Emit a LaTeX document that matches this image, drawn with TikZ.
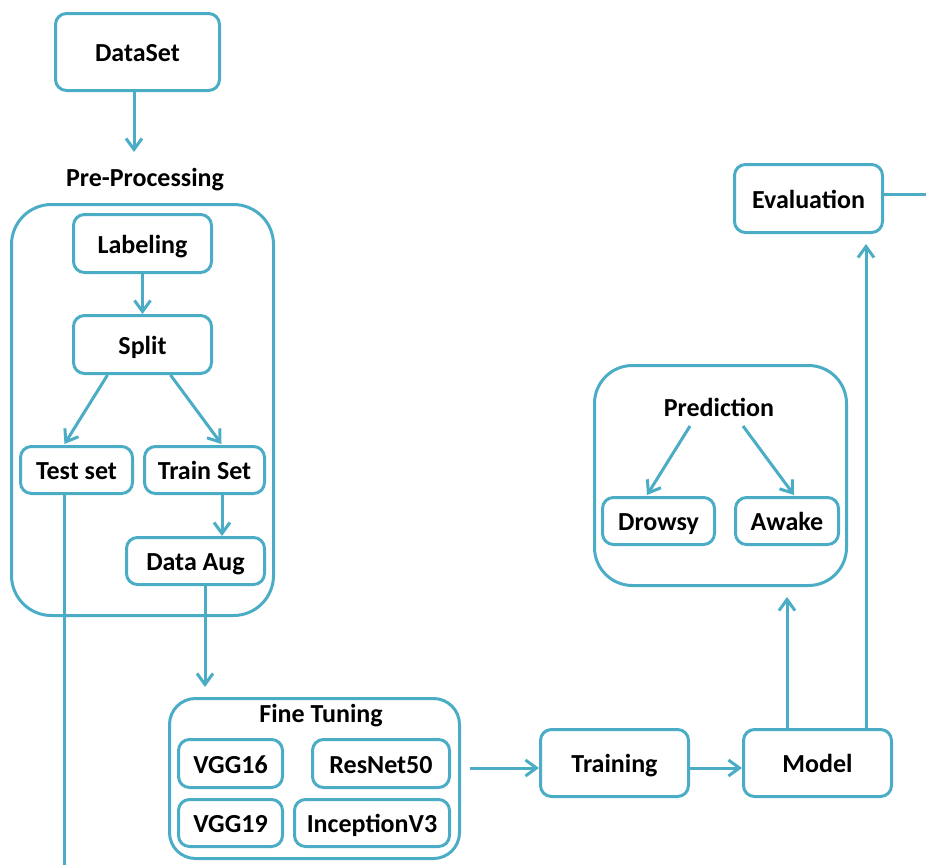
\documentclass[tikz,border=0pt]{standalone}
\usepackage{fontspec}
\setmainfont{Carlito}
\usetikzlibrary{arrows.meta,calc}
\definecolor{flow}{HTML}{4BACC6}
\begin{document}
\begin{tikzpicture}[x=1pt,y=-1pt,
  txt/.style={font=\bfseries\fontsize{26}{31}\selectfont, text=black},
  box/.style={txt, draw=flow, line width=3pt, rounded corners=11pt, inner sep=0pt,
    text height=19pt, text depth=0pt},
  group/.style={draw=flow, line width=3pt, inner sep=0pt},
  title/.style={txt, inner sep=0pt},
  wire/.style={draw=flow, line width=3pt},
  link/.style={wire, -{Straight Barb[length=11pt,width=16pt,line width=3pt]}}]
\useasboundingbox (0,0) rectangle (926,865);

% containers
\node[group, rounded corners=40pt, minimum width=262pt, minimum height=411pt] (pre) at (142.5,410) {};
\node[group, rounded corners=26pt, minimum width=290pt, minimum height=160pt] (fine) at (314.5,778.5) {};
\node[group, rounded corners=38pt, minimum width=252pt, minimum height=220pt] (pred) at (720.5,475.5) {};

% titles
\node[title] (pretitle) at (145,180) {Pre-Processing};
\node[title] (finetitle) at (321,716) {Fine Tuning};
\node[title] (predtitle) at (719,407) {Prediction};

% process boxes
\node[box, minimum width=164pt, minimum height=77pt] (data) at (137.5,52) {DataSet};
\node[box, minimum width=138pt, minimum height=58pt] (label) at (142.5,243.5) {Labeling};
\node[box, minimum width=138pt, minimum height=58pt] (split) at (142.5,344.5) {Split};
\node[box, minimum width=112pt, minimum height=47pt] (test) at (76.5,470) {Test set};
\node[box, minimum width=120pt, minimum height=47pt] (train) at (204.5,470) {Train Set};
\node[box, minimum width=138pt, minimum height=47pt] (aug) at (195.5,561) {Data Aug};

\node[box, minimum width=104pt, minimum height=48pt] (vgga) at (230.5,763.5) {VGG16};
\node[box, minimum width=137pt, minimum height=48pt] (resnet) at (381,763.5) {ResNet50};
\node[box, minimum width=104pt, minimum height=47pt] (vggb) at (230.5,823) {VGG19};
\node[box, minimum width=155pt, minimum height=47pt] (incep) at (372,823) {InceptionV3};

\node[box, minimum width=148pt, minimum height=67pt] (training) at (614.5,763) {Training};
\node[box, minimum width=148pt, minimum height=67pt] (model) at (817.5,763) {Model};
\node[box, minimum width=148pt, minimum height=68pt] (eval) at (808.5,198.5) {Evaluation};

\node[box, minimum width=112pt, minimum height=47pt] (drowsy) at (658.5,521) {Drowsy};
\node[box, minimum width=103pt, minimum height=47pt] (awake) at (787,521) {Awake};

% free ends
\coordinate (preentry) at (134,152);
\coordinate (testend) at (64,865);
\coordinate (evalend) at (926,194);

% connectors
\draw[link] (data.south -| preentry) -- (preentry);
\draw[link] (label.south) -- (split.north);
\draw[link] ($(split.south)+(-35,0)$) -- ($(test.north)+(-12,-1)$);
\draw[link] ($(split.south)+(28,0)$) -- ($(train.north)+(17,-1)$);
\draw[link] ($(train.south)+(17.5,0)$) coordinate (t1) -- (t1 |- aug.north);
\draw[wire] ($(test.south)+(-12.5,0)$) coordinate (t2) -- (t2 |- testend);
\draw[link, shorten >=10pt] ($(aug.south)+(9.5,0)$) coordinate (t3) -- (t3 |- fine.north);
\draw[link, shorten <=9pt] (fine.east |- 0,768) -- (training.west |- 0,768);
\draw[link] (training.east |- 0,768) -- (model.west |- 0,768);
\draw[link, shorten >=10pt] (model.north -| 787,0) -- (pred.south -| 787,0);
\draw[link, shorten >=10pt] (model.north -| 866,0) -- (eval.south -| 866,0);
\draw[wire] (eval.east |- evalend) -- (evalend);
\draw[link] ($(predtitle)+(-29,19)$) -- ($(drowsy.north)+(-11.5,-1)$);
\draw[link] ($(predtitle)+(24,19)$) -- ($(awake.north)+(7,-1)$);
\end{tikzpicture}
\end{document}
